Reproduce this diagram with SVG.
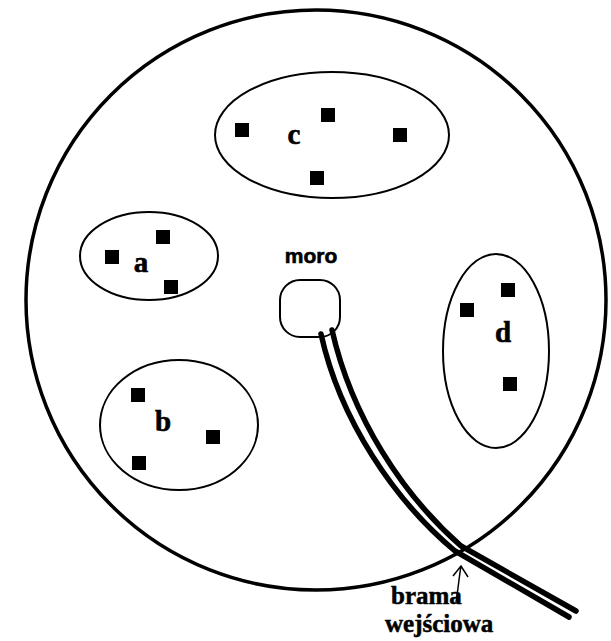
<svg xmlns="http://www.w3.org/2000/svg" width="611" height="641" viewBox="0 0 611 641">
  <style>
    .outer { fill: none; stroke: #000; stroke-width: 3.5; }
    .group { fill: none; stroke: #000; stroke-width: 2; }
    .host { fill: #000; }
    .lbl { font-family: "Liberation Serif", "Times New Roman", serif; font-weight: bold; font-size: 29px; fill: #000; text-anchor: middle; stroke: #000; stroke-width: 0.6; }
    .gate { font-family: "Liberation Serif", "Times New Roman", serif; font-weight: bold; font-size: 25px; fill: #000; stroke: #000; stroke-width: 0.5; }
    .moro { font-family: "Liberation Sans", Arial, sans-serif; font-weight: bold; font-size: 21px; fill: #000; text-anchor: middle; stroke: #000; stroke-width: 0.6; }
    .cable { fill: none; stroke: #000; stroke-width: 5.5; stroke-linecap: round; }
    .thin { fill: none; stroke: #000; stroke-width: 1.5; }
  </style>

  <rect width="611" height="641" fill="#fff"/>

  <!-- network boundary -->
  <g id="network">
    <circle class="outer" cx="316" cy="300" r="290"/>
  </g>

  <!-- subnet c -->
  <g id="subnet-c">
    <ellipse class="group" cx="332" cy="135" rx="117" ry="63"/>
    <rect class="host" x="235" y="123" width="14" height="14"/>
    <rect class="host" x="321" y="108" width="14" height="14"/>
    <rect class="host" x="393" y="128" width="14" height="14"/>
    <rect class="host" x="310" y="171" width="14" height="14"/>
    <text class="lbl" x="294" y="144">c</text>
  </g>

  <!-- subnet a -->
  <g id="subnet-a">
    <ellipse class="group" cx="149" cy="256" rx="69" ry="44"/>
    <rect class="host" x="105" y="250" width="14" height="14"/>
    <rect class="host" x="156" y="230" width="14" height="14"/>
    <rect class="host" x="164" y="280" width="14" height="14"/>
    <text class="lbl" x="141" y="272">a</text>
  </g>

  <!-- subnet b -->
  <g id="subnet-b">
    <ellipse class="group" cx="179" cy="425" rx="79" ry="65"/>
    <rect class="host" x="131" y="388" width="14" height="14"/>
    <rect class="host" x="206" y="430" width="14" height="14"/>
    <rect class="host" x="132" y="456" width="14" height="14"/>
    <text class="lbl" x="163" y="431">b</text>
  </g>

  <!-- subnet d -->
  <g id="subnet-d">
    <ellipse class="group" cx="496" cy="351" rx="53" ry="97"/>
    <rect class="host" x="460" y="303" width="14" height="14"/>
    <rect class="host" x="501" y="283" width="14" height="14"/>
    <rect class="host" x="503" y="377" width="14" height="14"/>
    <text class="lbl" x="503" y="342">d</text>
  </g>

  <!-- router -->
  <g id="moro">
    <rect class="group" x="280" y="280" width="60" height="57" rx="20" ry="20"/>
    <text class="moro" x="311" y="263">moro</text>
  </g>

  <!-- uplink cable (two parallel wires) and gateway marker -->
  <g id="connectors">
    <path class="cable" d="M321,334 C340,420 394,500 455,551 L569,617"/>
    <path class="cable" d="M332,330 C352,418 403,495 461,546 L576,611"/>
    <path class="thin" d="M456,602 C458,590 459,578 461,566 M453,576 L461,566 L468,577"/>
  </g>

  <g id="gateway-label">
    <text class="gate" x="391" y="604">brama</text>
    <text class="gate" x="385" y="632">wejściowa</text>
  </g>
</svg>
